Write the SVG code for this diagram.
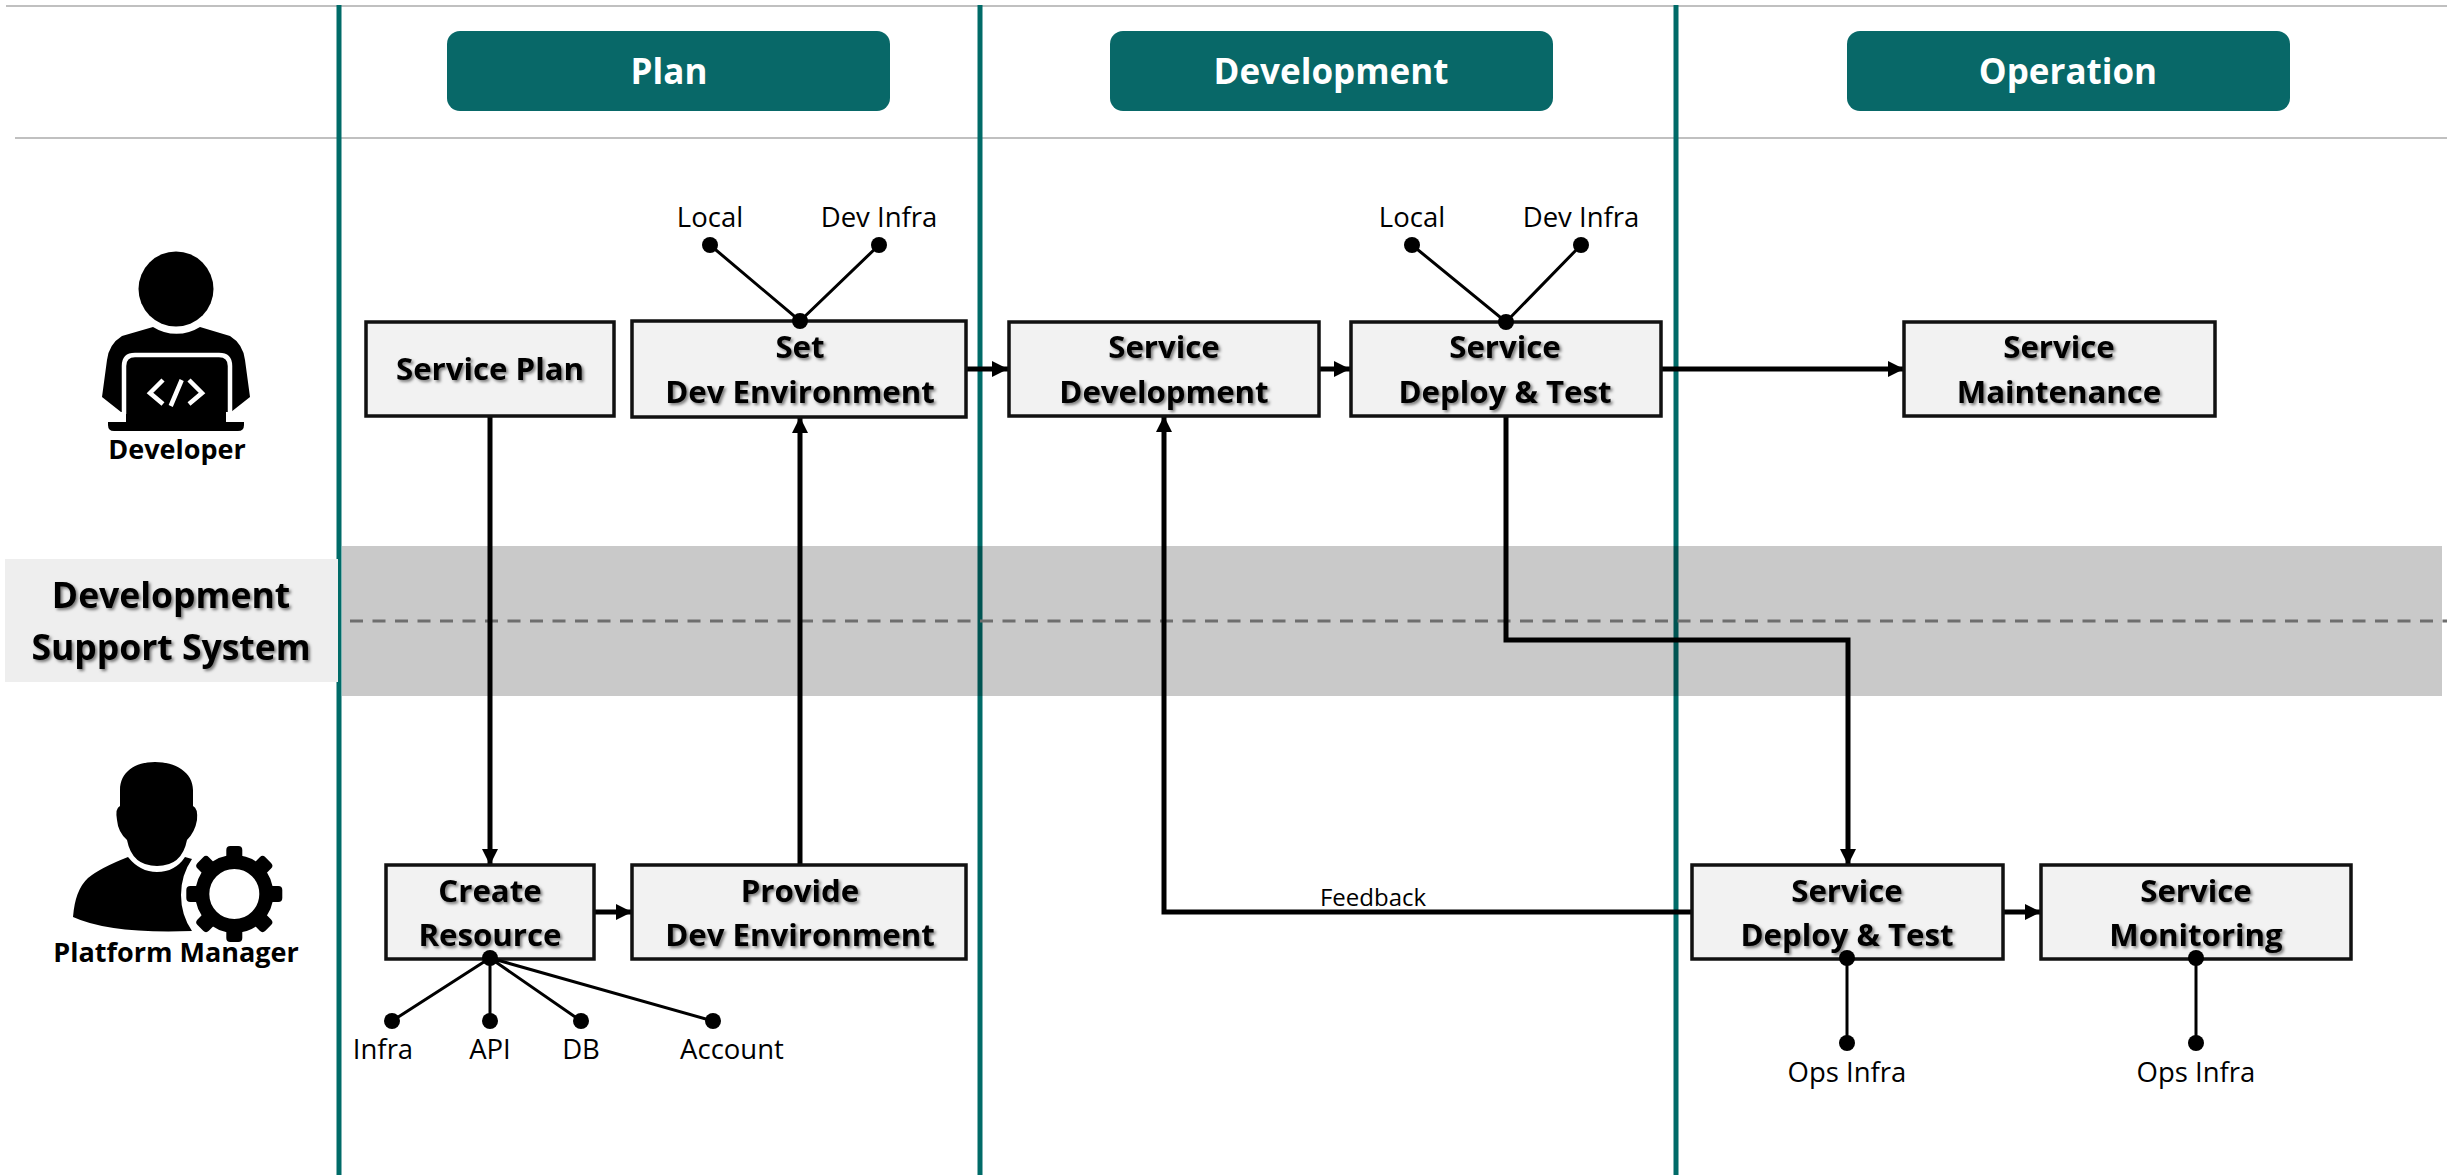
<svg xmlns="http://www.w3.org/2000/svg" width="2447" height="1175" viewBox="0 0 2447 1175">
<style>
text{font-family:"Open Sans","Noto Sans","Liberation Sans",sans-serif;text-anchor:middle;fill:#000}
.box{fill:#f2f2f2;stroke:#111;stroke-width:3.5}
.bt{font-size:31.2px;font-weight:700;filter:url(#sh)}
.pill{fill:#086868}
.ht{font-size:35px;font-weight:700;fill:#fff}
.lb{font-size:27.5px}
.role{font-size:27px;font-weight:700}
.teal{stroke:#006b68;stroke-width:5}
.rule{stroke:#c0c0c0;stroke-width:2}
.ar{fill:none;stroke:#000;stroke-width:5;marker-end:url(#ah)}
.ln{fill:none;stroke:#000;stroke-width:3}
.dot{fill:#000}
</style>
<defs>
<marker id="ah" markerUnits="userSpaceOnUse" markerWidth="17" markerHeight="17" refX="16" refY="8" orient="auto"><path d="M0,0L16,8L0,16Z" fill="#000"/></marker>
<filter id="sh" x="-5%" y="-10%" width="112%" height="130%"><feDropShadow dx="2" dy="2" stdDeviation="1.8" flood-color="#000" flood-opacity=".5"/></filter>
</defs>
<rect width="2447" height="1175" fill="#fff"/>
<g id="background">
<line class="rule" x1="6" y1="6" x2="2447" y2="6"/>
<line class="rule" x1="15" y1="138" x2="2447" y2="138"/>
<line class="teal" x1="339" y1="5" x2="339" y2="1175"/>
<line class="teal" x1="980" y1="5" x2="980" y2="1175"/>
<line class="teal" x1="1676" y1="5" x2="1676" y2="1175"/>
<rect x="342" y="546" width="2100" height="150" fill="#000" fill-opacity=".21"/>
<line x1="350" y1="621" x2="2447" y2="621" stroke="#6e6e6e" stroke-width="3" stroke-dasharray="13 9.5"/>
</g>
<g id="connectors">
<path class="ar" d="M490,416V865"/>
<path class="ar" d="M800,865V417"/>
<path class="ar" d="M966,369H1008"/>
<path class="ar" d="M1319,369H1350"/>
<path class="ar" d="M1661,369H1904"/>
<path class="ar" d="M594,912H632"/>
<path class="ar" d="M1506,416V640H1848V865"/>
<path class="ar" d="M1692,912H1164V416"/>
<path class="ar" d="M2003,912H2041"/>
</g>
<g id="header-plan"><rect class="pill" x="447" y="31" width="443" height="80" rx="13"/><text class="ht" x="669" y="84">Plan</text></g>
<g id="header-development"><rect class="pill" x="1110" y="31" width="443" height="80" rx="13"/><text class="ht" x="1331" y="84">Development</text></g>
<g id="header-operation"><rect class="pill" x="1847" y="31" width="443" height="80" rx="13"/><text class="ht" x="2068" y="84">Operation</text></g>
<g id="support-system"><rect x="5" y="559" width="333" height="123" fill="#eee"/><text class="bt" x="171" y="608" style="font-size:35.5px">Development</text><text class="bt" x="171" y="660" style="font-size:35.5px">Support System</text></g>
<g id="developer">
<circle cx="176" cy="289" r="37.5"/>
<path d="M153,327A44,44 0 0 0 200,327L230,336Q243,344 245,360L250,397L231,412H121L102,397L107,360Q109,344 122,336Z"/>
<rect x="126" y="357" width="100" height="66"/>
<path d="M124,414V366Q124,355 135,355H219Q230,355 230,366V414" fill="none" stroke="#fff" stroke-width="4.5"/>
<path d="M108,422H244V425Q244,431 238,431H114Q108,431 108,425Z"/>
<path d="M163,380L150,393L163,404M181.7,380L170.7,406M189,380L202,393L189,404" fill="none" stroke="#fff" stroke-width="4.5"/>
<text class="role" x="177" y="459">Developer</text>
</g>
<g id="platform-manager">
<path d="M155,762C135,762 120,772 120,790V806Q115,808 117,820Q118,832 127,840Q132,866 157,866Q182,866 187,840Q195,832 197,820Q198,808 193,806V790C193,772 175,762 155,762Z"/>
<path d="M128,857Q140,872 157,872Q175,872 185,857L192,859Q181,875 181,895Q181,915 192,931Q110,934 73,917Q75,890 88,878Q100,868 128,857Z"/>
<g transform="translate(234.3,894)">
<circle r="32" fill="none" stroke="#000" stroke-width="14"/>
<g><rect x="-8" y="-48" width="16" height="16" rx="4"/><rect x="-8" y="32" width="16" height="16" rx="4"/><rect x="-48" y="-8" width="16" height="16" rx="4"/><rect x="32" y="-8" width="16" height="16" rx="4"/></g>
<g transform="rotate(45)"><rect x="-8" y="-48" width="16" height="16" rx="4"/><rect x="-8" y="32" width="16" height="16" rx="4"/><rect x="-48" y="-8" width="16" height="16" rx="4"/><rect x="32" y="-8" width="16" height="16" rx="4"/></g>
</g>
<text class="role" x="176" y="962">Platform Manager</text>
</g>
<g id="service-plan"><rect class="box" x="366" y="322" width="248" height="94"/><text class="bt" x="490" y="380">Service Plan</text></g>
<g id="set-dev-env"><rect class="box" x="632" y="321" width="334" height="96"/><text class="bt" x="800" y="358">Set</text><text class="bt" x="800" y="403">Dev Environment</text>
<path class="ln" d="M710,245L800,321L879,245"/><circle class="dot" cx="710" cy="245" r="8"/><circle class="dot" cx="879" cy="245" r="8"/><circle class="dot" cx="800" cy="321" r="8"/><text class="lb" x="710" y="227">Local</text><text class="lb" x="879" y="227">Dev Infra</text></g>
<g id="service-development"><rect class="box" x="1009" y="322" width="310" height="94"/><text class="bt" x="1164" y="358">Service</text><text class="bt" x="1164" y="403">Development</text></g>
<g id="service-deploy-dev"><rect class="box" x="1351" y="322" width="310" height="94"/><text class="bt" x="1505" y="358">Service</text><text class="bt" x="1505" y="403">Deploy &amp; Test</text>
<path class="ln" d="M1412,245L1506,322L1581,245"/><circle class="dot" cx="1412" cy="245" r="8"/><circle class="dot" cx="1581" cy="245" r="8"/><circle class="dot" cx="1506" cy="322" r="8"/><text class="lb" x="1412" y="227">Local</text><text class="lb" x="1581" y="227">Dev Infra</text></g>
<g id="service-maintenance"><rect class="box" x="1904" y="322" width="311" height="94"/><text class="bt" x="2059" y="358">Service</text><text class="bt" x="2059" y="403">Maintenance</text></g>
<g id="create-resource"><rect class="box" x="386" y="865" width="208" height="94"/><text class="bt" x="490" y="902">Create</text><text class="bt" x="490" y="946">Resource</text>
<path class="ln" d="M392,1021L490,958L490,1021M490,958L581,1021M490,958L713,1021"/><circle class="dot" cx="490" cy="958" r="8"/><circle class="dot" cx="392" cy="1021" r="8"/><circle class="dot" cx="490" cy="1021" r="8"/><circle class="dot" cx="581" cy="1021" r="8"/><circle class="dot" cx="713" cy="1021" r="8"/><text class="lb" x="383" y="1059">Infra</text><text class="lb" x="490" y="1059">API</text><text class="lb" x="581" y="1059">DB</text><text class="lb" x="732" y="1059">Account</text></g>
<g id="provide-dev-env"><rect class="box" x="632" y="865" width="334" height="94"/><text class="bt" x="800" y="902">Provide</text><text class="bt" x="800" y="946">Dev Environment</text></g>
<g id="feedback-label"><text x="1373" y="906" style="font-size:24px">Feedback</text></g>
<g id="service-deploy-ops"><rect class="box" x="1692" y="865" width="311" height="94"/><text class="bt" x="1847" y="902">Service</text><text class="bt" x="1847" y="946">Deploy &amp; Test</text>
<path class="ln" d="M1847,958V1043"/><circle class="dot" cx="1847" cy="958" r="8"/><circle class="dot" cx="1847" cy="1043" r="8"/><text class="lb" x="1847" y="1082">Ops Infra</text></g>
<g id="service-monitoring"><rect class="box" x="2041" y="865" width="310" height="94"/><text class="bt" x="2196" y="902">Service</text><text class="bt" x="2196" y="946">Monitoring</text>
<path class="ln" d="M2196,958V1043"/><circle class="dot" cx="2196" cy="958" r="8"/><circle class="dot" cx="2196" cy="1043" r="8"/><text class="lb" x="2196" y="1082">Ops Infra</text></g>
</svg>
